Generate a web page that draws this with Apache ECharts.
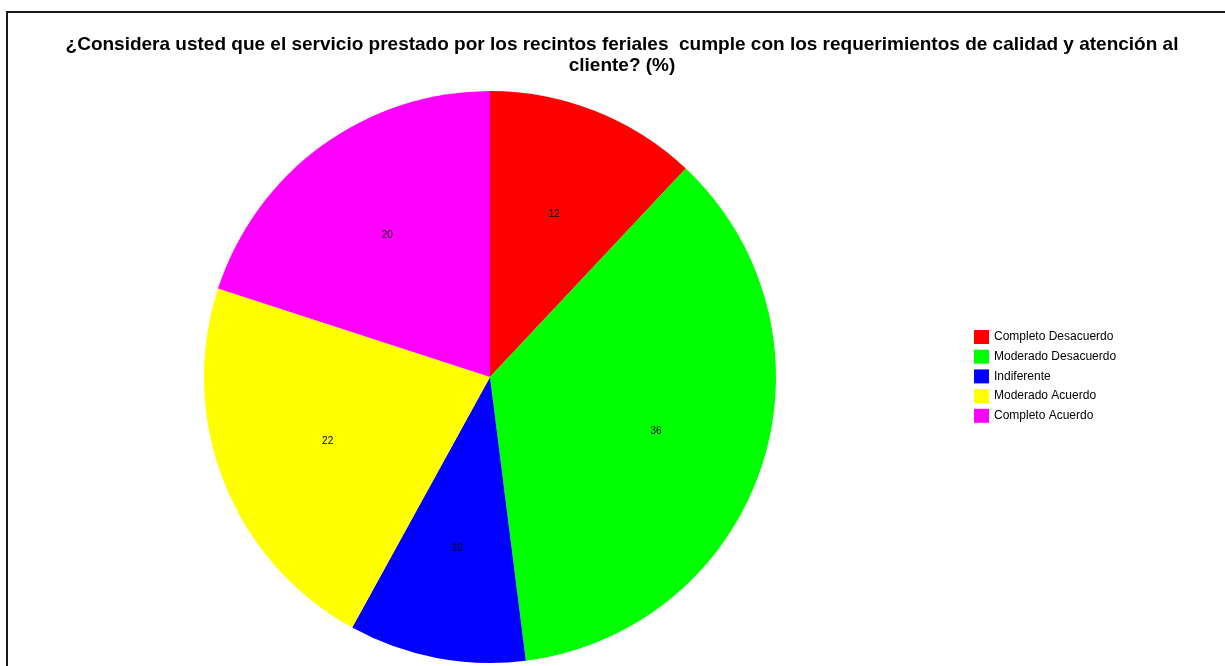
<!DOCTYPE html>
<html>
<head>
<meta charset="utf-8">
<script src="https://cdn.jsdelivr.net/npm/echarts@6/dist/echarts.min.js"></script>
<style>
  html, body { margin: 0; padding: 0; background: #fff; }
  #chart { width: 1225px; height: 666px; }
</style>
</head>
<body>
<div id="chart"></div>
<script>
// Survey answers and their share in percent
const categories = ['Completo Desacuerdo', 'Moderado Desacuerdo', 'Indiferente', 'Moderado Acuerdo', 'Completo Acuerdo'];
const values = [12, 36, 10, 22, 20];
const colors = ['#ff0000', '#00ff00', '#0000ff', '#ffff00', '#ff00ff'];

const titleText = '¿Considera usted que el servicio prestado por los recintos feriales  cumple con los requerimientos de calidad y atención al\ncliente? (%)';

const R = 286;
const center = [490, 377];

const pieData = categories.map((name, i) => ({ name, value: values[i], itemStyle: { color: colors[i] } }));
// Transparent twin of the pie, 1.2x as wide, so its inside labels land at 60% of the real radius
const labelData = categories.map((name, i) => ({ name, value: values[i] }));

const chart = echarts.init(document.getElementById('chart'), null, { renderer: 'canvas' });
chart.setOption({
  animation: false,
  backgroundColor: '#ffffff',
  title: {
    text: titleText,
    left: 622,
    textAlign: 'center',
    top: 34,
    padding: 0,
    textStyle: {
      fontFamily: 'Liberation Sans, Arial, sans-serif',
      fontWeight: 'bold',
      fontSize: 19,
      lineHeight: 21,
      color: '#000'
    }
  },
  legend: {
    orient: 'vertical',
    left: 974,
    top: 330,
    padding: 0,
    itemWidth: 15,
    itemHeight: 14,
    itemGap: 5.7,
    icon: 'rect',
    selectedMode: false,
    textStyle: {
      fontFamily: 'Liberation Sans, Arial, sans-serif',
      fontSize: 12,
      color: '#000'
    },
    data: categories.map((name, i) => ({ name, itemStyle: { color: colors[i] } }))
  },
  graphic: [{
    type: 'rect',
    shape: { x: 7, y: 12, width: 1300, height: 700 },
    style: { fill: 'none', stroke: '#1a1a1a', lineWidth: 2 },
    silent: true,
    z: 100
  }],
  series: [
    {
      type: 'pie',
      center: center,
      radius: [0, R],
      startAngle: 90,
      clockwise: true,
      silent: true,
      label: { show: false },
      labelLine: { show: false },
      itemStyle: { borderWidth: 0 },
      data: pieData
    },
    {
      type: 'pie',
      center: center,
      radius: [0, R * 1.2],
      startAngle: 90,
      clockwise: true,
      silent: true,
      legendHoverLink: false,
      itemStyle: { color: 'rgba(0,0,0,0)', borderWidth: 0 },
      label: {
        show: true,
        position: 'inside',
        formatter: '{c}',
        fontFamily: 'Liberation Sans, Arial, sans-serif',
        fontSize: 10,
        color: '#000'
      },
      labelLine: { show: false },
      data: labelData,
      z: 3
    }
  ]
});
</script>
</body>
</html>
